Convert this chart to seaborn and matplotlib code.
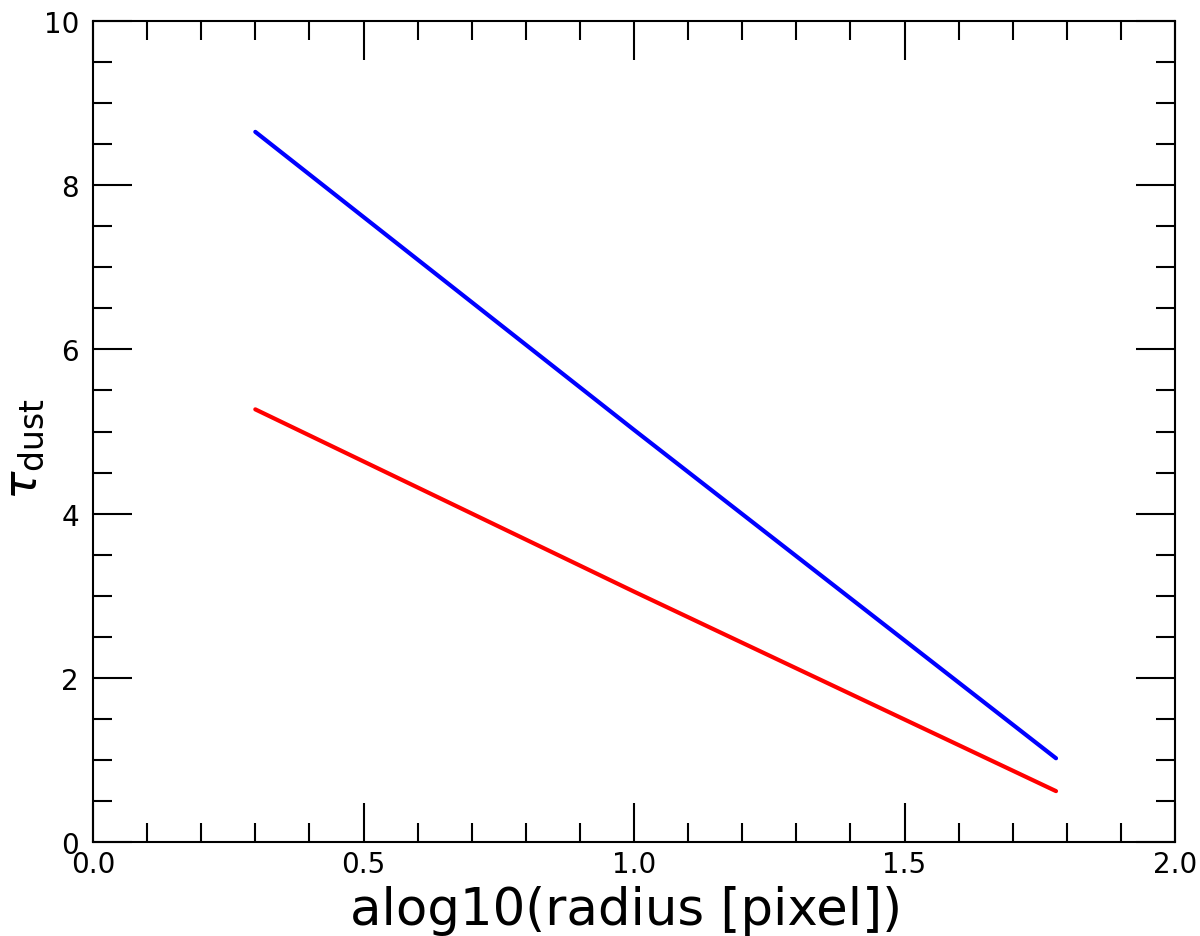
import numpy as np
import pandas as pd
import seaborn as sns
import matplotlib.pyplot as plt
from matplotlib.ticker import MultipleLocator

# Data
log_radius = [0.30, 1.00, 1.78]
tau_blue = [8.65, 5.02, 1.02]
tau_red = [5.27, 3.05, 0.62]

df = pd.concat([
    pd.DataFrame({"x": log_radius, "tau": tau_blue, "band": "blue"}),
    pd.DataFrame({"x": log_radius, "tau": tau_red, "band": "red"}),
])

sns.set_style("ticks")
plt.rcParams["font.family"] = ["DejaVu Sans"]
plt.rcParams["mathtext.fontset"] = "dejavusans"
plt.rcParams["text.color"] = "black"
plt.rcParams["axes.labelcolor"] = "black"
plt.rcParams["xtick.color"] = "black"
plt.rcParams["ytick.color"] = "black"

fig = plt.figure(figsize=(12, 9.37), dpi=100)
ax = fig.add_axes([0.0775, 0.1003, 0.9017, 0.8762])

sns.lineplot(data=df, x="x", y="tau", hue="band",
             palette={"blue": "#0000ff", "red": "#ff0000"},
             linewidth=3, legend=False, ax=ax)

ax.set_xlim(0, 2)
ax.set_ylim(0, 10)
ax.set_xticks([0, 0.5, 1.0, 1.5, 2.0])
ax.set_xticklabels(["0.0", "0.5", "1.0", "1.5", "2.0"])
ax.set_yticks([0, 2, 4, 6, 8, 10])
ax.set_yticklabels(["0", "2", "4", "6", "8", "10"])
ax.xaxis.set_minor_locator(MultipleLocator(0.1))
ax.yaxis.set_minor_locator(MultipleLocator(0.5))

ax.tick_params(which="both", direction="in", top=True, right=True,
               color="black", labelcolor="black", width=1.5)
ax.tick_params(which="major", length=28, labelsize=20)
ax.tick_params(axis="x", which="major", pad=6)
ax.tick_params(axis="y", which="major", pad=10)
ax.tick_params(which="minor", length=14)
for s in ax.spines.values():
    s.set_linewidth(1.5)
    s.set_color("black")

ax.set_xlabel("alog10(radius [pixel])", fontsize=37)
ax.xaxis.set_label_coords(0.4926, -0.052)
ax.set_ylabel(r"$\tau_{\rm dust}$", fontsize=34)
ax.yaxis.set_label_coords(-0.043, 0.48)

fig.savefig("out.png", dpi=100)
